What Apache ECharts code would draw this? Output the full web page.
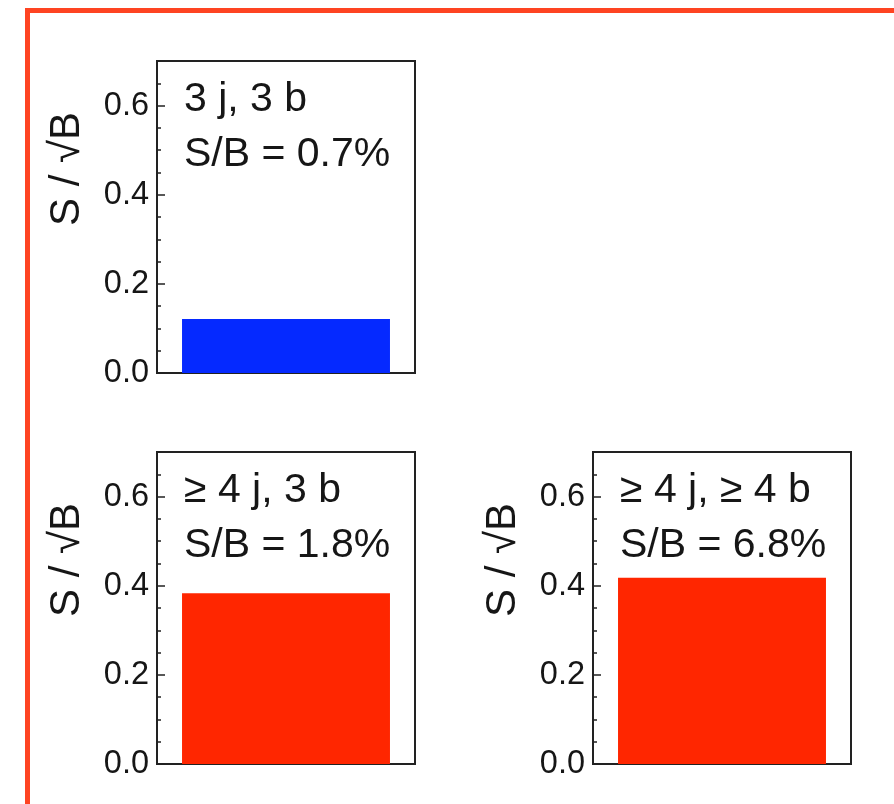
<!DOCTYPE html>
<html>
<head>
<meta charset="utf-8">
<script src="https://cdn.jsdelivr.net/npm/echarts@6/dist/echarts.min.js"></script>
<style>
  html, body { margin: 0; padding: 0; background: #ffffff; }
  #chart { width: 894px; height: 804px; }
</style>
</head>
<body>
<div id="chart"></div>
<script>
// Analysis channels: jet / b-tag multiplicity
const channels = ['3 j, 3 b', '\u2265 4 j, 3 b', '\u2265 4 j, \u2265 4 b'];
// Signal-to-background ratio shown in each panel
const sOverB = ['0.7%', '1.8%', '6.8%'];
// Expected significance S / sqrt(B) per channel
const significance = [0.121, 0.383, 0.418];
// Bar fill per channel
const barColors = ['#0529ff', '#ff2600', '#ff2600'];
// Value axis range and tick steps
const yMin = 0;
const yMax = 0.7;
const majorStep = 0.2;
const minorStep = 0.05;
const yTitle = 'S / \u221AB';

// Panel boxes (pixels)
const panels = [
  { left: 157, top: 61 },
  { left: 157, top: 452 },
  { left: 593, top: 452 }
];
const panelW = 258;
const panelH = 312;

const FONT = '"Liberation Sans", Arial, Helvetica, sans-serif';
const INK = '#161616';

const grid = [], xAxis = [], yAxis = [], series = [], graphic = [];

panels.forEach((p, i) => {
  grid.push({
    left: p.left, top: p.top, width: panelW, height: panelH,
    show: true, borderColor: '#222', borderWidth: 2, backgroundColor: 'transparent'
  });
  xAxis.push({
    type: 'category', gridIndex: i, data: [channels[i]],
    axisLine: { show: false }, axisTick: { show: false },
    axisLabel: { show: false }, splitLine: { show: false }
  });
  // labelled axis with major ticks
  yAxis.push({
    type: 'value', gridIndex: i, position: 'left',
    min: yMin, max: yMax, interval: majorStep,
    axisLine: { show: false },
    axisTick: { show: true, inside: true, length: 8, lineStyle: { color: '#222', width: 1.5 } },
    splitLine: { show: false },
    axisLabel: {
      show: true, margin: 8, showMaxLabel: false,
      fontFamily: FONT, fontSize: 32.5, color: INK,
      formatter: v => v.toFixed(1)
    }
  });
  // companion axis carrying the minor ticks
  yAxis.push({
    type: 'value', gridIndex: i, position: 'left',
    min: yMin, max: yMax, interval: minorStep,
    axisLine: { show: false },
    axisTick: { show: true, inside: true, length: 4, lineStyle: { color: '#222', width: 1.5 } },
    splitLine: { show: false },
    axisLabel: { show: false }
  });
  series.push({
    type: 'bar', xAxisIndex: i, yAxisIndex: i * 2,
    data: [significance[i]], barWidth: '80.6%',
    itemStyle: { color: barColors[i] },
    silent: true, animation: false
  });

  // channel name and S/B inside the panel
  graphic.push({
    type: 'text', x: p.left + 27, y: p.top + 39,
    style: { text: channels[i], font: '41px ' + FONT, fill: INK, textAlign: 'left', textVerticalAlign: 'middle' }
  });
  graphic.push({
    type: 'text', x: p.left + 27, y: p.top + 93.5,
    style: { text: 'S/B = ' + sOverB[i], font: '41px ' + FONT, fill: INK, textAlign: 'left', textVerticalAlign: 'middle' }
  });
  // rotated axis title
  graphic.push({
    type: 'text', x: p.left - 90, y: p.top + 108, rotation: Math.PI / 2,
    style: { text: yTitle, font: '42px ' + FONT, fill: INK, textAlign: 'center', textVerticalAlign: 'middle' }
  });
});

// orange frame along top and left edges
graphic.push({ type: 'rect', shape: { x: 25, y: 8, width: 880, height: 5 }, style: { fill: '#fe4422' }, z: 10 });
graphic.push({ type: 'rect', shape: { x: 25, y: 8, width: 5, height: 810 }, style: { fill: '#fe4422' }, z: 10 });

const chart = echarts.init(document.getElementById('chart'), null, { renderer: 'canvas' });
chart.setOption({
  animation: false,
  backgroundColor: '#ffffff',
  grid, xAxis, yAxis, series, graphic
});
</script>
</body>
</html>
